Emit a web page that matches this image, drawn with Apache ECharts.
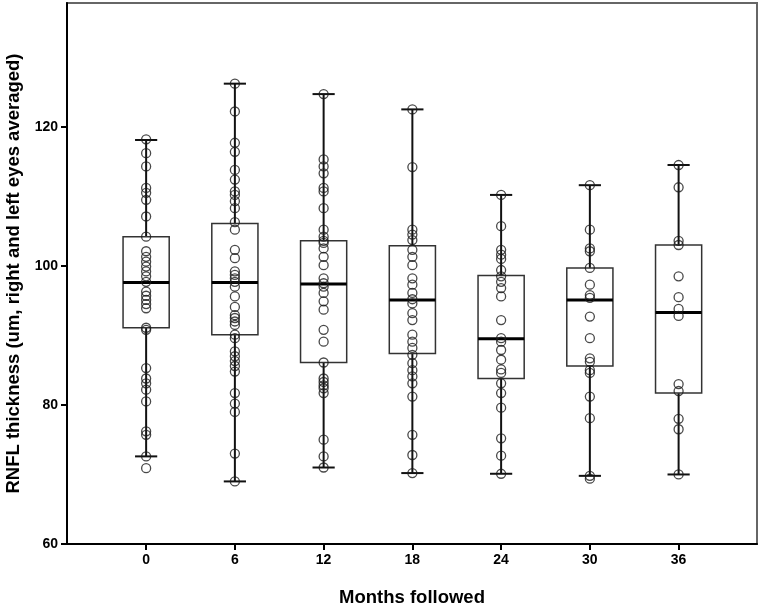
<!DOCTYPE html>
<html>
<head>
<meta charset="utf-8">
<script src="https://cdn.jsdelivr.net/npm/echarts@6/dist/echarts.min.js"></script>
<style>
  html, body { margin: 0; padding: 0; background: #fff; }
  #chart { width: 760px; height: 605px; }
</style>
</head>
<body>
<div id="chart"></div>
<script>
// months on x axis
const months = [0, 6, 12, 18, 24, 30, 36];
const yTicks = [60, 80, 100, 120];

// box stats per month
const whiskerLow  = [72.6, 69.0, 71.0, 70.2, 70.1, 69.8, 70.0];
const q1          = [91.1, 90.1, 86.1, 87.4, 83.8, 85.6, 81.7];
const median      = [97.6, 97.6, 97.4, 95.1, 89.5, 95.1, 93.3];
const q3          = [104.2, 106.1, 103.6, 102.9, 98.6, 99.7, 103.0];
const whiskerHigh = [118.1, 126.2, 124.7, 122.5, 110.2, 111.6, 114.5];

// individual patients
const pts0  = [118.2, 116.2, 114.3, 111.2, 110.5, 109.5, 107.1, 104.2, 102.1, 101.3, 100.6, 99.9, 99.2, 98.5, 97.7, 96.3, 95.7, 95.1, 94.5, 93.9, 91.1, 90.8, 85.3, 83.8, 83.1, 82.2, 80.5, 76.2, 75.7, 72.6, 70.9];
const pts6  = [126.2, 122.2, 117.7, 116.4, 113.8, 112.4, 110.7, 110.2, 109.3, 108.3, 106.3, 105.2, 102.3, 101.1, 99.2, 98.7, 98.2, 97.7, 97.0, 95.6, 94.1, 92.9, 92.5, 92.0, 91.5, 90.1, 89.6, 87.7, 87.0, 86.3, 85.6, 84.8, 81.7, 80.2, 79.0, 73.0, 69.0];
const pts12 = [124.7, 115.3, 114.3, 113.3, 111.2, 110.7, 108.3, 105.2, 104.2, 103.6, 103.3, 102.5, 101.3, 100.1, 98.2, 97.5, 97.0, 96.1, 94.9, 93.7, 90.8, 89.1, 86.1, 83.8, 83.3, 82.8, 82.4, 81.7, 75.0, 72.6, 71.0];
const pts18 = [122.5, 114.2, 105.2, 104.5, 103.7, 102.3, 101.3, 100.1, 98.2, 97.3, 96.1, 95.2, 94.6, 93.2, 92.2, 90.1, 89.1, 88.2, 87.2, 86.0, 85.0, 84.1, 83.1, 81.2, 75.7, 72.8, 70.2];
const pts24 = [110.2, 105.7, 102.3, 101.6, 101.0, 99.4, 98.5, 97.7, 96.8, 95.6, 92.2, 89.6, 89.1, 87.9, 86.5, 85.1, 84.6, 83.1, 81.7, 79.6, 75.2, 72.7, 70.1];
const pts30 = [111.6, 105.2, 102.5, 102.1, 99.7, 97.3, 95.8, 95.4, 92.7, 89.6, 86.7, 86.2, 85.0, 84.6, 81.2, 78.1, 69.8, 69.4];
const pts36 = [114.5, 111.3, 103.6, 103.0, 98.5, 95.5, 93.8, 92.8, 83.0, 82.0, 78.0, 76.5, 70.0];

const allPts = [pts0, pts6, pts12, pts18, pts24, pts30, pts36];

const boxData = months.map((m, i) => [m, whiskerLow[i], q1[i], median[i], q3[i], whiskerHigh[i]]);
let scatterData = [];
allPts.forEach((arr, i) => {
  arr.forEach(v => scatterData.push([months[i], v]));
});

const font = "'Liberation Sans', Arial, sans-serif";

function renderBox(params, api) {
  const x = api.value(0);
  const lo = api.coord([x, api.value(1)]);
  const b1 = api.coord([x, api.value(2)]);
  const md = api.coord([x, api.value(3)]);
  const b3 = api.coord([x, api.value(4)]);
  const hi = api.coord([x, api.value(5)]);
  const step = api.size([6, 0])[0];
  const halfBox = step * 0.26;
  const halfCap = step * 0.125;
  const stemStyle = { stroke: '#111', lineWidth: 2 };
  return {
    type: 'group',
    children: [
      { type: 'line', shape: { x1: hi[0], y1: hi[1], x2: b3[0], y2: b3[1] }, style: stemStyle },
      { type: 'line', shape: { x1: b1[0], y1: b1[1], x2: lo[0], y2: lo[1] }, style: stemStyle },
      { type: 'line', shape: { x1: hi[0] - halfCap, y1: hi[1], x2: hi[0] + halfCap, y2: hi[1] }, style: stemStyle },
      { type: 'line', shape: { x1: lo[0] - halfCap, y1: lo[1], x2: lo[0] + halfCap, y2: lo[1] }, style: stemStyle },
      { type: 'rect', shape: { x: b3[0] - halfBox, y: b3[1], width: halfBox * 2, height: b1[1] - b3[1] },
        style: { fill: 'none', stroke: '#333', lineWidth: 1.5 } },
      { type: 'line', shape: { x1: md[0] - halfBox, y1: md[1], x2: md[0] + halfBox, y2: md[1] },
        style: { stroke: '#000', lineWidth: 3 } }
    ]
  };
}

const chart = echarts.init(document.getElementById('chart'), null, { renderer: 'canvas' });
chart.setOption({
  backgroundColor: '#fff',
  animation: false,
  grid: {
    left: 67, right: 3, top: 3, bottom: 61,
    outerBoundsMode: 'none',
    show: true, borderColor: '#666', borderWidth: 2, backgroundColor: '#fff'
  },
  xAxis: {
    type: 'value',
    min: -5.35,
    max: 41.3,
    name: 'Months followed',
    nameLocation: 'middle',
    nameGap: 44,
    nameTextStyle: { fontFamily: font, fontWeight: 'bold', fontSize: 18.5, color: '#000' },
    axisLine: { onZero: false, lineStyle: { color: '#000', width: 2 } },
    axisTick: { show: true, customValues: months, length: 6, lineStyle: { color: '#000', width: 2 } },
    axisLabel: { customValues: months, margin: 9, fontFamily: font, fontWeight: 'bold', fontSize: 14, color: '#000' },
    splitLine: { show: false }
  },
  yAxis: {
    type: 'value',
    min: 60,
    max: 137.8,
    interval: 20,
    name: 'RNFL thickness (um, right and left eyes averaged)',
    nameLocation: 'middle',
    nameGap: 37,
    nameTextStyle: { fontFamily: font, fontWeight: 'bold', fontSize: 18.5, color: '#000' },
    axisLine: { show: true, onZero: false, lineStyle: { color: '#000', width: 2 } },
    axisTick: { show: true, customValues: yTicks, length: 6, lineStyle: { color: '#000', width: 2 } },
    axisLabel: { customValues: yTicks, margin: 9, fontFamily: font, fontWeight: 'bold', fontSize: 14, color: '#000' },
    splitLine: { show: false }
  },
  series: [
    {
      type: 'custom',
      renderItem: renderBox,
      data: boxData,
      encode: { x: 0, y: [1, 2, 3, 4, 5] },
      z: 2
    },
    {
      type: 'scatter',
      data: scatterData,
      symbol: 'circle',
      symbolSize: 9,
      itemStyle: { color: 'rgba(0,0,0,0)', borderColor: '#1a1a1a', borderWidth: 1.3 },
      z: 3
    }
  ]
});
</script>
</body>
</html>
